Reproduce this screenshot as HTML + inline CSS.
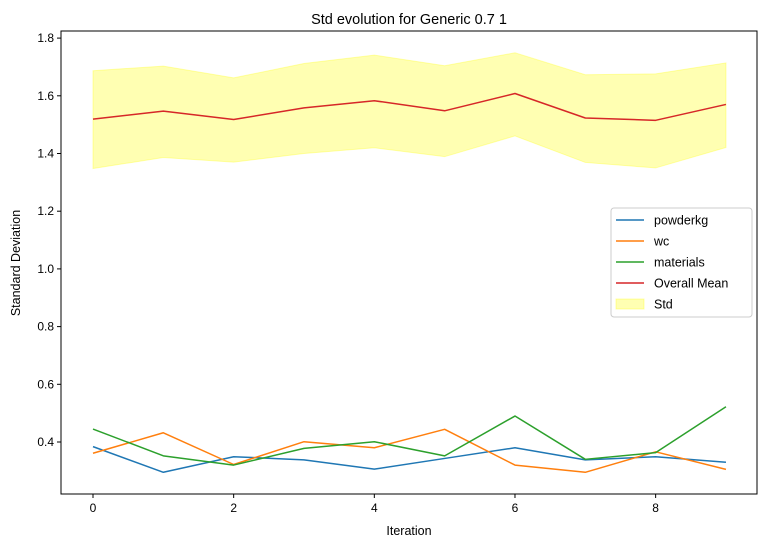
<!DOCTYPE html>
<html><head><meta charset="utf-8"><style>
body{margin:0;background:#fff;font-family:"Liberation Sans","DejaVu Sans",sans-serif;}
svg text{font-family:"Liberation Sans","DejaVu Sans",sans-serif;}
</style></head><body>
<svg id="chart" width="768" height="547" xmlns="http://www.w3.org/2000/svg"></svg>
<script>
const iterations=[0,1,2,3,4,5,6,7,8,9];
const powderkg=[0.384,0.295,0.349,0.338,0.306,0.343,0.380,0.338,0.349,0.330];
const wc=[0.361,0.432,0.322,0.401,0.380,0.444,0.320,0.295,0.366,0.305];
const materials=[0.445,0.352,0.320,0.378,0.401,0.352,0.490,0.340,0.363,0.522];
const overallMean=[1.519,1.547,1.518,1.558,1.583,1.548,1.608,1.523,1.515,1.570];
const stdUpper=[1.687,1.703,1.662,1.712,1.741,1.704,1.749,1.673,1.676,1.714];
const stdLower=[1.348,1.386,1.370,1.400,1.420,1.389,1.461,1.369,1.350,1.421];
const xTicks=[0,2,4,6,8];
const yTicks=[0.4,0.6,0.8,1.0,1.2,1.4,1.6,1.8];

const NS="http://www.w3.org/2000/svg";
const svg=document.getElementById('chart');
const L=61,R=757,T=31,B=494;
const X=v=>93+v*70.33;
const Y=v=>442-(v-0.4)*288.5;
function el(tag,attrs,parent){const e=document.createElementNS(NS,tag);for(const k in attrs)e.setAttribute(k,attrs[k]);(parent||svg).appendChild(e);return e;}

// std band
let d='M'+iterations.map((x,i)=>X(x)+','+Y(stdUpper[i])).join('L');
for(let i=iterations.length-1;i>=0;i--)d+='L'+X(iterations[i])+','+Y(stdLower[i]);
const band=el('path',{d:d+'Z',fill:'#ffff00','fill-opacity':0.3,stroke:'#ffff00','stroke-opacity':0.3});



const series=[[powderkg,'#1f77b4','powderkg'],[wc,'#ff7f0e','wc'],[materials,'#2ca02c','materials'],[overallMean,'#d62728','Overall Mean']];
series.forEach(([vals,c,n])=>{
  const p=el('polyline',{points:iterations.map((x,i)=>X(x)+','+Y(vals[i])).join(' '),fill:'none',stroke:c,'stroke-width':1.5,'stroke-linejoin':'round'});
  
  
});

const frame=el('rect',{x:L,y:T,width:R-L,height:B-T,fill:'none',stroke:'#000','stroke-width':1});



xTicks.forEach(t=>{
  el('line',{x1:X(t),x2:X(t),y1:B,y2:B+4,stroke:'#000'});
  const tx=el('text',{x:X(t),y:B+18,'text-anchor':'middle','font-size':12});
  tx.textContent=t;
  
  
});
yTicks.forEach(t=>{
  el('line',{x1:L-4,x2:L,y1:Y(t),y2:Y(t),stroke:'#000'});
  const tx=el('text',{x:L-7,y:Y(t)+4,'text-anchor':'end','font-size':12});
  tx.textContent=t.toFixed(1);
  
  
});

const title=el('text',{x:409,y:24,'text-anchor':'middle','font-size':14.5});
title.textContent='Std evolution for Generic 0.7 1';


const xl=el('text',{x:409,y:535,'text-anchor':'middle','font-size':12.5});
xl.textContent='Iteration';


const yl=el('text',{x:20,y:263,'text-anchor':'middle','font-size':12.5,transform:'rotate(-90 20 263)'});
yl.textContent='Standard Deviation';



// legend
const lg=el('g',{});


el('rect',{x:611,y:208,width:141,height:109,rx:3,fill:'#fff','fill-opacity':0.8,stroke:'#ccc'},lg);
const entries=[['powderkg','#1f77b4'],['wc','#ff7f0e'],['materials','#2ca02c'],['Overall Mean','#d62728'],['Std',null]];
entries.forEach(([n,c],i)=>{
  const y=220+i*21;
  const g=el('g',{},lg);
  
  
  if(c) el('line',{x1:616,x2:644,y1:y,y2:y,stroke:c,'stroke-width':1.5},g);
  else el('rect',{x:616,y:y-5,width:28,height:10,fill:'#ffff00','fill-opacity':0.3,stroke:'#ffff00','stroke-opacity':0.3},g);
  const t=el('text',{x:654,y:y+4.5,'font-size':12.5},g);
  t.textContent=n;
});
</script>
</body></html>
